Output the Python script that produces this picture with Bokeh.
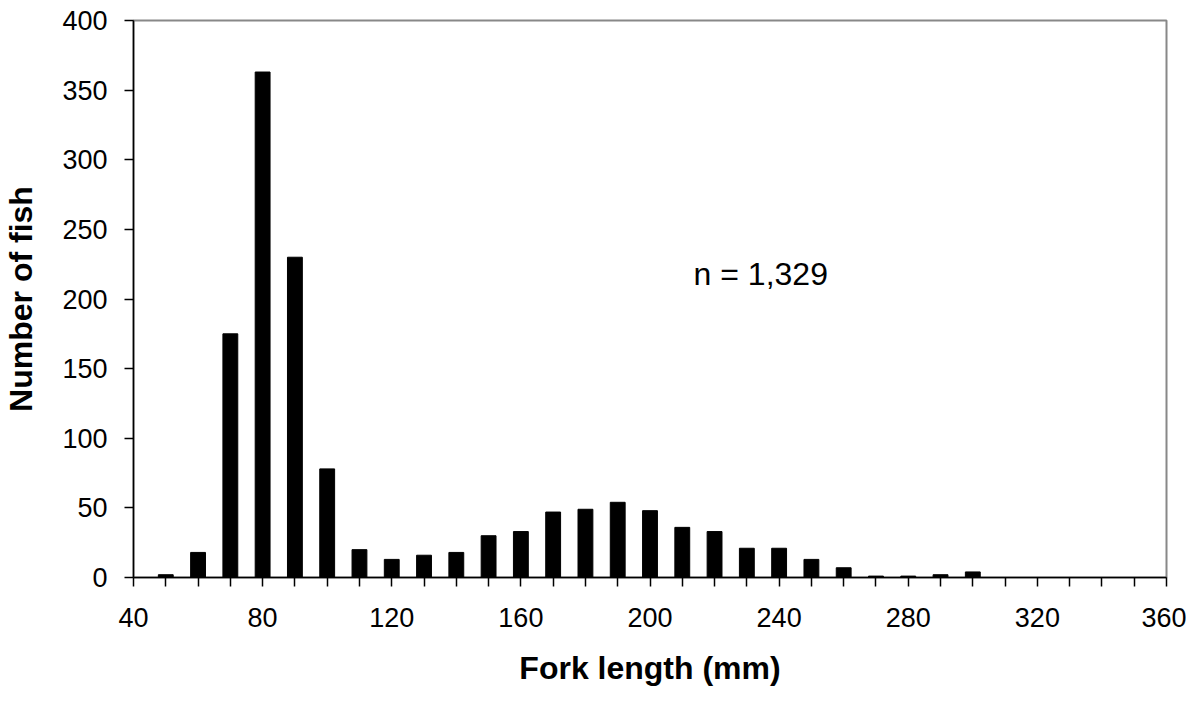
from bokeh.plotting import figure
from bokeh.models import FixedTicker, Label, Range1d
from bokeh.embed import file_html
from bokeh.resources import INLINE

lengths = [50, 60, 70, 80, 90, 100, 110, 120, 130, 140, 150, 160, 170, 180, 190,
           200, 210, 220, 230, 240, 250, 260, 270, 280, 290, 300]
counts = [2, 18, 175, 363, 230, 78, 20, 13, 16, 18, 30, 33, 47, 49, 54,
          48, 36, 33, 21, 21, 13, 7, 1, 1, 2, 4]
x_major = [40, 80, 120, 160, 200, 240, 280, 320, 360]
x_minor = [50, 60, 70, 90, 100, 110, 130, 140, 150, 170, 180, 190, 210, 220, 230,
           250, 260, 270, 290, 300, 310, 330, 340, 350]
y_major = [0, 50, 100, 150, 200, 250, 300, 350, 400]

FONT = "Liberation Sans"

p = figure(width=1186, height=688, output_backend="svg", toolbar_location=None,
           x_range=Range1d(40, 360), y_range=Range1d(0, 400),
           min_border_left=132, min_border_top=20, min_border_right=20,
           min_border_bottom=110)

p.vbar(x=lengths, top=counts, width=4.6, bottom=0, color="black")

p.xgrid.visible = False
p.ygrid.visible = False
p.outline_line_color = "#888888"
p.outline_line_width = 2

xa = p.xaxis[0]
xa.ticker = FixedTicker(ticks=x_major, minor_ticks=x_minor)
xa.axis_line_color = "black"
xa.axis_line_width = 1.5
xa.major_tick_in = 0
xa.major_tick_out = 9
xa.minor_tick_in = 0
xa.minor_tick_out = 9
xa.major_tick_line_color = "black"
xa.minor_tick_line_color = "black"
xa.major_tick_line_width = 1.5
xa.minor_tick_line_width = 1.5
xa.major_label_text_font = FONT
xa.major_label_text_font_size = "27px"
xa.major_label_text_color = "black"
xa.major_label_standoff = 21
xa.axis_label = "Fork length (mm)"
xa.axis_label_text_font = FONT
xa.axis_label_text_font_size = "32px"
xa.axis_label_text_font_style = "bold"
xa.axis_label_text_color = "black"
xa.axis_label_standoff = 20

ya = p.yaxis[0]
ya.ticker = FixedTicker(ticks=y_major, minor_ticks=[])
ya.axis_line_color = "black"
ya.axis_line_width = 1.5
ya.major_tick_in = 0
ya.major_tick_out = 9
ya.minor_tick_line_color = None
ya.major_tick_line_color = "black"
ya.major_tick_line_width = 1.5
ya.major_label_text_font = FONT
ya.major_label_text_font_size = "27px"
ya.major_label_text_color = "black"
ya.major_label_standoff = 17
ya.axis_label = "Number of fish"
ya.axis_label_text_font = FONT
ya.axis_label_text_font_size = "32px"
ya.axis_label_text_font_style = "bold"
ya.axis_label_text_color = "black"
ya.axis_label_standoff = 20

p.add_layout(Label(x=213.5, y=218, text="n = 1,329", text_font=FONT,
                   text_font_size="32px", text_color="black",
                   text_baseline="middle", text_align="left"))

open("out.html", "w").write(file_html(p, INLINE))
